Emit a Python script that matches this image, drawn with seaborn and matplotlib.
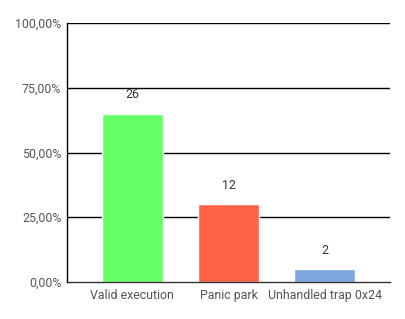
import matplotlib
matplotlib.use("Agg")
import matplotlib.pyplot as plt
import seaborn as sns
import pandas as pd
from matplotlib.ticker import FuncFormatter

categories = ["Valid execution", "Panic park", "Unhandled trap 0x24"]
counts = [26, 12, 2]
colors = ["#66ff66", "#ff6347", "#7ba6e0"]

total = sum(counts)
df = pd.DataFrame({"cat": categories, "pct": [c / total * 100 for c in counts], "n": counts})

sns.set_theme(style="white")
plt.rcParams["font.family"] = ["Roboto", "DejaVu Sans"]

fig = plt.figure(figsize=(4.06, 3.19), dpi=100)
ax = fig.add_axes([67 / 406, 1 - 282 / 319, (390 - 67) / 406, (282 - 23) / 319])

sns.barplot(data=df, x="cat", y="pct", hue="cat", palette=colors, legend=False,
            width=0.635, ax=ax, saturation=1)

ax.set_ylim(0, 100)
ax.set_xlim(-0.68, 2.68)
ax.set_yticks([0, 25, 50, 75, 100])
ax.yaxis.set_major_formatter(FuncFormatter(lambda v, p: f"{v:.2f}".replace(".", ",") + "%"))
for y in [25, 50, 75, 100]:
    ax.axhline(y, color="black", lw=1.0, zorder=0)
ax.set_axisbelow(True)

for i, (p, n) in enumerate(zip(df["pct"], df["n"])):
    ax.annotate(str(n), xy=(i, p), xytext=(0, 13.5), textcoords="offset points",
                ha="center", va="center", fontsize=8.9, color="#333333")

ax.set_xlabel("")
ax.set_ylabel("")
for s in ["top", "right"]:
    ax.spines[s].set_visible(False)
ax.spines["left"].set_color("black")
ax.spines["left"].set_linewidth(1.0)
ax.spines["bottom"].set_color("#333333")
ax.spines["bottom"].set_linewidth(1.0)
ax.tick_params(axis="both", length=0, labelsize=8.9, labelcolor="#555555")
ax.tick_params(axis="x", pad=5)
ax.tick_params(axis="y", pad=4)

fig.savefig("out.png", dpi=100)
